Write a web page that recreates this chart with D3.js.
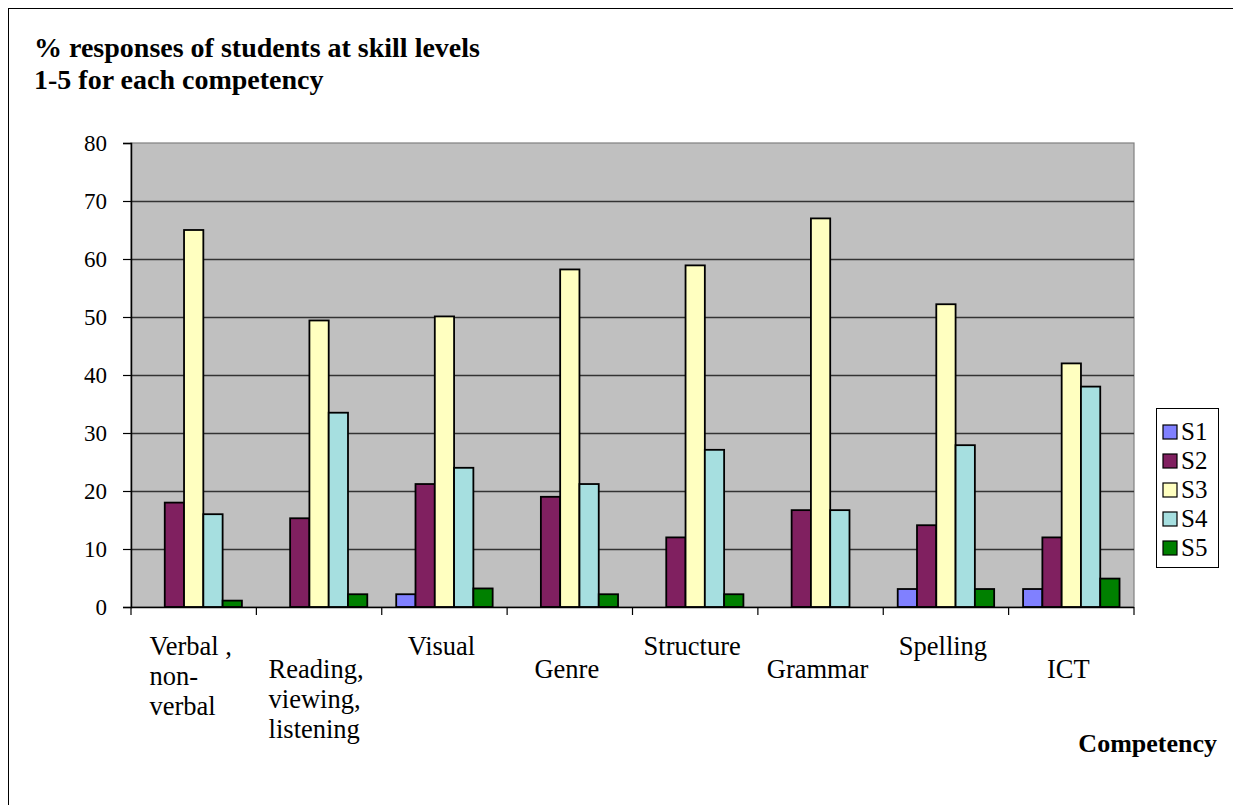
<!DOCTYPE html>
<html>
<head>
<meta charset="utf-8">
<script src="https://cdn.jsdelivr.net/npm/d3@7"></script>
<style>
  html, body { margin: 0; padding: 0; background: #ffffff; }
  svg { display: block; }
  text { font-family: "Liberation Serif", "Times New Roman", serif; fill: #000; }
</style>
</head>
<body>
<svg id="chart" width="1233" height="805"></svg>
<script>
const categories = [
  ["Verbal ,", "non-", "verbal"],
  ["Reading,", "viewing,", "listening"],
  ["Visual"],
  ["Genre"],
  ["Structure"],
  ["Grammar"],
  ["Spelling"],
  ["ICT"]
];
const seriesNames = ["S1", "S2", "S3", "S4", "S5"];
const S1 = [0, 0, 2.2, 0, 0, 0, 3.1, 3.1];
const S2 = [18, 15.3, 21.2, 19, 12, 16.7, 14.1, 12];
const S3 = [65, 49.4, 50.1, 58.2, 58.9, 67, 52.2, 42];
const S4 = [16, 33.5, 24, 21.2, 27.1, 16.7, 27.9, 38];
const S5 = [1.1, 2.2, 3.2, 2.2, 2.2, 0, 3.1, 4.9];
const yTicks = [0, 10, 20, 30, 40, 50, 60, 70, 80];
const colors = ["#8080ff", "#802060", "#ffffc0", "#a6dfe0", "#008000"];
const titleLines = ["% responses of students at skill levels", "1-5 for each competency"];
const xTitle = "Competency";

const seriesValues = [S1, S2, S3, S4, S5];
const svg = d3.select("#chart");
const W = 1233, H = 805;
const plot = { left: 131, right: 1134, top: 143, bottom: 607 };

// outer chart border
svg.append("rect").attr("x", 8.5).attr("y", 8.5).attr("width", W + 10).attr("height", H + 10)
  .attr("fill", "#fff").attr("stroke", "#000").attr("stroke-width", 1);

// title
const title = svg.append("text").style("font-size", "28px").style("font-weight", "bold");
titleLines.forEach((t, i) => title.append("tspan").attr("x", 34).attr("y", 57 + i * 32).text(t));

const catIdx = categories.map((d, i) => i);
const x0 = d3.scaleBand().domain(catIdx).range([plot.left, plot.right]).padding(0);
const B = x0.bandwidth();
const w = B / 6.5;
const x1 = d3.scaleBand().domain(seriesNames).range([0.75 * w, B - 0.75 * w]).padding(0);
const y = d3.scaleLinear().domain([0, 80]).range([plot.bottom, plot.top]);

// plot background
svg.append("rect").attr("x", plot.left).attr("y", plot.top)
  .attr("width", plot.right - plot.left).attr("height", plot.bottom - plot.top)
  .attr("fill", "#c0c0c0").attr("stroke", "#808080").attr("stroke-width", 1.2);

// gridlines
svg.append("g").selectAll("line").data(yTicks.filter(v => v > 0 && v < 80)).join("line")
  .attr("x1", plot.left).attr("x2", plot.right)
  .attr("y1", d => Math.round(y(d)) + 0.5).attr("y2", d => Math.round(y(d)) + 0.5)
  .attr("stroke", "#333").attr("stroke-width", 1.3);

// bars
const groups = svg.append("g").selectAll("g").data(catIdx).join("g")
  .attr("transform", i => `translate(${x0(i)},0)`);
groups.selectAll("rect")
  .data(i => seriesNames.map((s, k) => ({ s, k, v: seriesValues[k][i] })).filter(d => d.v > 0))
  .join("rect")
  .attr("x", d => x1(d.s))
  .attr("width", x1.bandwidth())
  .attr("y", d => y(d.v))
  .attr("height", d => y(0) - y(d.v))
  .attr("fill", d => colors[d.k])
  .attr("stroke", "#000").attr("stroke-width", 1.8);

// y axis
const yAxis = svg.append("g").attr("transform", `translate(${plot.left},0)`)
  .call(d3.axisLeft(y).tickValues(yTicks).tickSize(8).tickPadding(16).tickFormat(d3.format("d")));
yAxis.select(".domain").attr("stroke", "#000").attr("stroke-width", 1.5);
yAxis.selectAll(".tick line").attr("stroke", "#000").attr("stroke-width", 1.2);
yAxis.selectAll(".tick text").style("font-size", "23px")
  .style("font-family", "'Liberation Serif', 'Times New Roman', serif").attr("fill", "#000");

// x axis line and ticks
const xAxisG = svg.append("g");
xAxisG.append("line").attr("x1", plot.left).attr("x2", plot.right)
  .attr("y1", plot.bottom + 0.5).attr("y2", plot.bottom + 0.5).attr("stroke", "#000").attr("stroke-width", 1.5);
const bounds = catIdx.map(i => x0(i)).concat([plot.right]);
xAxisG.selectAll("line.t").data(bounds).join("line").attr("class", "t")
  .attr("x1", d => d).attr("x2", d => d)
  .attr("y1", plot.bottom).attr("y2", plot.bottom + 8)
  .attr("stroke", "#000").attr("stroke-width", 1.2);

// category labels (staggered, as in the source)
catIdx.forEach(i => {
  const lines = categories[i];
  const cx = x0(i) + B / 2 - 3;
  const baseY = plot.bottom + (i % 2 === 0 ? 48 : 71);
  const t = svg.append("text").style("font-size", "26.5px");
  lines.forEach((l, j) => t.append("tspan").attr("y", baseY + j * 30).text(l));
  let maxW = 0;
  t.selectAll("tspan").each(function () { maxW = Math.max(maxW, this.getComputedTextLength()); });
  t.selectAll("tspan").attr("x", cx - maxW / 2);
});

// axis title
svg.append("text").attr("x", 1217).attr("y", 752).attr("text-anchor", "end")
  .style("font-size", "26px").style("font-weight", "bold").text(xTitle);

// legend
const lg = { x: 1156, y: 408, w: 62, rowH: 29 };
const legend = svg.append("g");
legend.append("rect").attr("x", lg.x + 0.5).attr("y", lg.y + 0.5)
  .attr("width", lg.w).attr("height", lg.rowH * seriesNames.length + 14)
  .attr("fill", "#fff").attr("stroke", "#000").attr("stroke-width", 1);
seriesNames.forEach((s, k) => {
  const cy = lg.y + 24 + k * lg.rowH;
  legend.append("rect").attr("x", lg.x + 7).attr("y", cy - 7).attr("width", 14).attr("height", 14)
    .attr("fill", colors[k]).attr("stroke", "#000").attr("stroke-width", 1.2);
  legend.append("text").attr("x", lg.x + 25).attr("y", cy + 8).style("font-size", "25px").text(s);
});
</script>
</body>
</html>
